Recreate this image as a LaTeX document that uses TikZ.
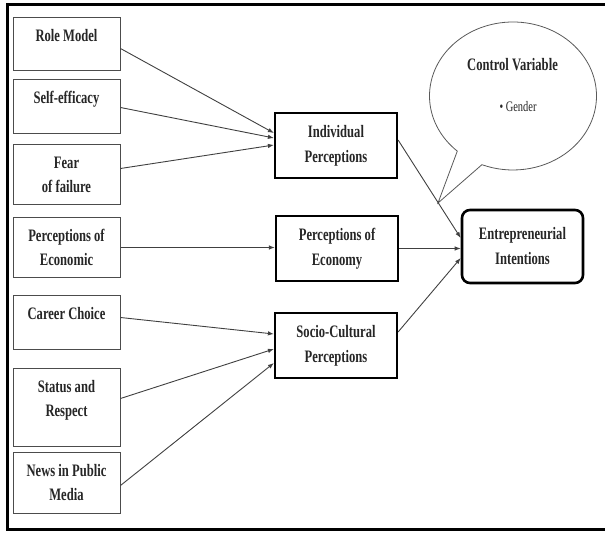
\documentclass[tikz,border=0pt]{standalone}
\usepackage{fontspec}
\setmainfont{Liberation Serif}[FakeStretch=0.72]
\usetikzlibrary{shapes.callouts,calc,arrows.meta}

\tikzset{
  factor/.style={draw=black!70, line width=1pt, minimum width=107pt, inner sep=0pt,
    anchor=north, align=center, text height=24pt, text=black!85,
    font=\fontsize{17.5}{24}\selectfont\bfseries},
  construct/.style={draw=black, line width=2.2pt, minimum width=122pt, minimum height=65pt,
    inner sep=0pt, align=center, text=black!85, font=\fontsize{17.5}{25}\selectfont\bfseries},
  outcome/.style={construct, rounded corners=8pt, line width=2.6pt,
    minimum width=121pt, minimum height=73pt},
  link/.style={draw=black!75, line width=0.9pt, -{Latex[length=6pt,width=4.5pt]}}
}

\begin{document}
\begin{tikzpicture}[x=1pt,y=1pt,yscale=-1,xscale=1]
		\useasboundingbox (0,0) rectangle (605,534);

		% Outer frame
		\draw[line width=3pt] (605,4.5) -- (7,4.5) -- (7,529) -- (605,529);

		% Left column of factors
		\node[factor, text depth=29pt] (rolemodel) at (66.5,17) {Role Model};
		\node[factor, text depth=30pt] (selfeff) at (66.5,79) {Self-efficacy};
		\node[factor, text height=48pt, text depth=12pt] (fear) at (66.5,144) {Fear\\of failure};
		\node[factor, text height=48pt, text depth=12pt] (perecon) at (66.5,217) {Perceptions of\\Economic};
		\node[factor, text depth=30pt] (career) at (66.5,295) {Career Choice};
		\node[factor, text height=48pt, text depth=30pt] (status) at (66.5,368) {Status and\\Respect};
		\node[factor, text height=48pt, text depth=13pt] (news) at (66.5,452) {News in Public\\Media};

		% Middle column of perceptions
		\node[construct] (indiv) at (336,145.5) {Individual\\Perceptions};
		\node[construct] (economy) at (337,248.5) {Perceptions of\\Economy};
		\node[construct] (socio) at (336,345.5) {Socio-Cultural\\Perceptions};

		% Outcome
		\node[outcome] (intent) at (522.5,246.5) {Entrepreneurial\\Intentions};

		% Control variable callout
		\node[ellipse callout, draw=black!65, line width=0.8pt, minimum width=167pt, minimum height=148pt,
			callout absolute pointer={(438,203)}, callout pointer arc=20] (control) at (513,96) {};
		\node[text=black!85, font=\fontsize{17.5}{24}\selectfont\bfseries] (ctrltitle) at (512.5,65) {Control Variable};
		\node[text=black!85, font=\fontsize{14.5}{16}\selectfont] (gender) at (518,107) {\textbullet\ Gender};

		% Factors to individual perceptions
		\draw[link] ($(rolemodel.east)+(0,4.5)$) -- ($(indiv.west)+(0,-12.5)$);
		\draw[link] ($(selfeff.east)+(0,1)$) -- ($(indiv.west)+(0,-7.5)$);
		\draw[link] ($(fear.east)+(0,-6)$) -- ($(indiv.west)+(0,-0.5)$);

		% Economic perceptions
		\draw[link] (perecon.east) -- (perecon.east -| economy.west);

		% Factors to socio-cultural perceptions
		\draw[link] ($(career.east)+(0,-5)$) -- ($(socio.west)+(0,-11.5)$);
		\draw[link] ($(status.east)+(0,-9)$) -- ($(socio.west)+(0,3.5)$);
		\draw[link] ($(news.east)+(0,2.5)$) -- ($(socio.west)+(0,17.5)$);

		% Perceptions to intentions
		\draw[link] ($(indiv.east)+(0,-5.5)$) -- ($(intent.west)+(0,-8.5)$);
		\draw[link] (economy.east) -- (economy.east -| intent.west);
		\draw[link] ($(socio.east)+(0,-13.5)$) -- ($(intent.west)+(0,11.5)$);
	\end{tikzpicture}
\end{document}
